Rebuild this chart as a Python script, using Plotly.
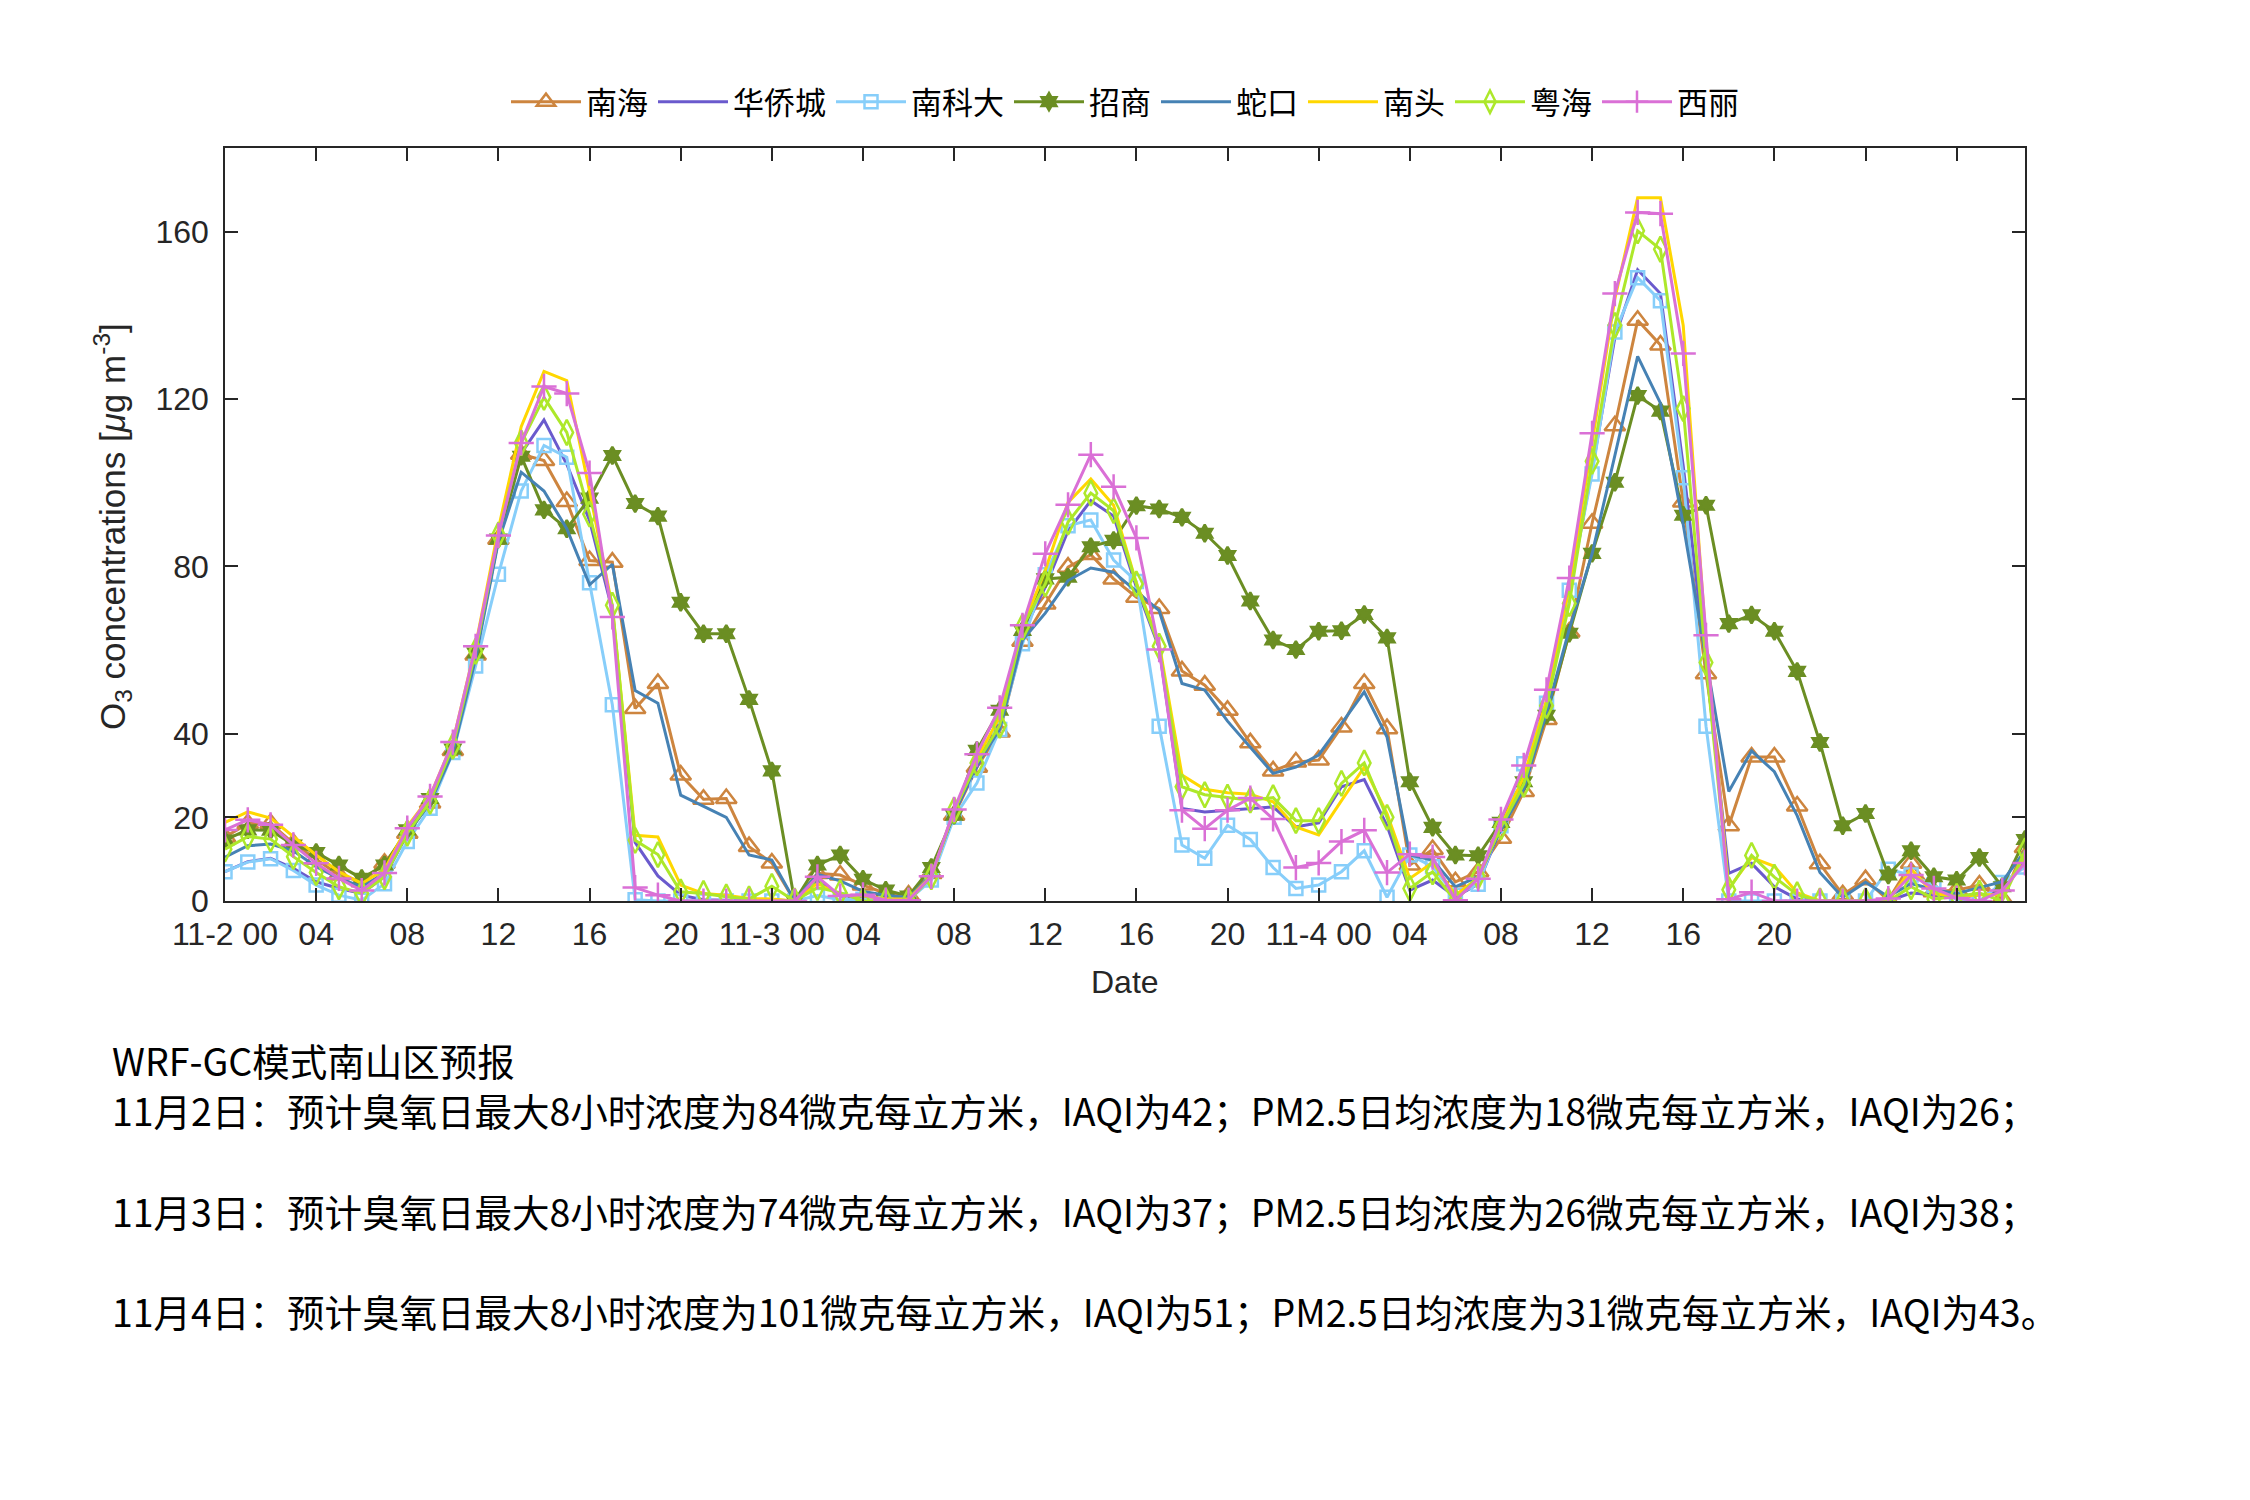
import plotly.graph_objects as go

hours = list(range(80))

nanhai = [15.3, 18.5, 18.5, 13.8, 10, 6.2, 4.6, 9.0, 16.2, 23.4,
          36, 58.8, 86.5, 106.8, 105.3, 95.5, 81.4, 81, 46, 52,
          30.1, 24.3, 24.5, 13, 9.1, 0, 6.6, 6.2, 3.8, 1.8,
          1.4, 6.6, 20.5, 32, 40.4, 62.1, 71, 79.8, 82.8, 77,
          72.6, 69.9, 55, 51.6, 45.6, 37.8, 31.1, 33.2, 33.7, 41.6,
          52, 41.2, 8.6, 12.3, 4.6, 7, 15, 26.2, 43.4, 64.3,
          90.3, 113.6, 138.8, 132.9, 95.4, 54.3, 18, 34.4, 34.4, 22.7,
          8.9, 1.5, 5.1, 0.2, 9, 2.2, 2.6, 3.8, 0.5, 12.8]

huaqiaocheng = [7, 9.4, 10.2, 7.8, 4.6, 3, 1.8, 5.8, 16, 23.8,
                37, 59.5, 87, 107, 115, 104.4, 91, 69.5, 14, 6,
                1.4, 0.3, 0.2, 0.2, 0.3, 0, 5, 1.2, 0.8, 0.3,
                0.3, 5.8, 21, 32, 43, 64, 75, 88.5, 95.7, 92,
                75, 60.5, 22.1, 21.3, 21.7, 22, 22.5, 17.7, 18.7, 27.3,
                29, 18, 2.6, 5, 1, 4, 17.5, 29, 46.7, 74,
                103, 134.7, 150.9, 145.2, 104, 57, 6.6, 9, 3.4, 0.5,
                0, 0, 0, 0, 1.9, 1.5, 0.7, 1.5, 2, 10]

nankeda = [7, 9.3, 10.1, 7.3, 3.8, 1.4, 0.2, 4.1, 14.2, 22.2,
           35.5, 56.2, 78.1, 98, 108.9, 106.1, 76.1, 46.9, 0.3, 0,
           0, 0, 0, 0, 0, 0, 1.3, 0.3, 0.4, 0.3,
           0.2, 5, 20, 28.2, 41, 61.5, 78, 89.7, 91.1, 81.5,
           76.4, 41.8, 13.4, 10.2, 18.1, 14.7, 8, 3, 3.8, 7,
           12, 0.9, 11, 8.2, 1.4, 4, 18, 32.8, 47.3, 74.3,
           102.1, 136, 149, 143.5, 101.2, 41.8, 0, 0, 0, 0,
           0, 0, 0, 7.6, 6.2, 3.8, 0.3, 0, 4.4, 8.1]

zhaoshang = [14.6, 17, 16.9, 13.4, 11.6, 8.6, 5.4, 8.6, 17, 24.5,
             36.3, 59.3, 86.5, 106.3, 93.5, 89, 96.3, 106.5, 95, 92,
             71.4, 63.9, 63.9, 48.2, 31.1, 0, 8.6, 11, 5.2, 2.6,
             1.2, 8, 20.5, 36, 45.6, 64.7, 77, 77.4, 84.7, 86.2,
             94.5, 93.7, 91.7, 87.9, 82.6, 71.7, 62.4, 60.1, 64.5, 64.6,
             68.5, 62.9, 28.5, 17.6, 11, 10.8, 18.8, 28.5, 44.4, 64,
             83.1, 100.1, 120.8, 117.1, 92.2, 94.6, 66.3, 68.4, 64.5, 54.9,
             37.9, 18, 20.9, 6.2, 12, 5.8, 5, 10.4, 3.4, 14.7]

shekou = [10.5, 13.2, 13.6, 12, 8.2, 5.4, 3.4, 6.7, 16, 23.4,
          35.5, 58, 86, 102.5, 98, 89, 75.6, 80.5, 50.3, 47.3,
          25.3, 22.7, 20, 11, 9.8, 0, 6.4, 4.8, 2.3, 1.4,
          0.8, 6.3, 21, 32.6, 41, 62.4, 68.8, 76.6, 79.6, 78.6,
          74, 69.4, 52, 50.4, 43, 36.8, 30.5, 32, 34.9, 42.4,
          50, 39.2, 11, 9.8, 3.4, 5.8, 17, 26.8, 45, 65,
          83, 106.5, 130.2, 119, 90, 58, 26.2, 35.9, 30.9, 20.4,
          6.8, 0.9, 4.5, 1, 4.2, 2.7, 1.8, 3.2, 4.6, 12]

nantou = [18.8, 21.3, 19.8, 15.3, 11, 7, 4.2, 7.5, 17.8, 25,
          38, 61, 89, 113.4, 126.6, 124.4, 98, 70.3, 15.7, 15.3,
          3.8, 1.8, 1.4, 0.6, 0.5, 0, 4.2, 1.5, 1.2, 0.5,
          0.5, 6, 21.5, 34, 44, 65.5, 79, 95.3, 100.9, 94.6,
          76, 61.5, 30.1, 26.7, 25.9, 25.5, 23.7, 17.7, 15.8, 24,
          32, 20.9, 5.4, 9.2, 1.4, 5.5, 18, 29.7, 48, 75,
          110, 144, 168.1, 168.1, 137.6, 62, 3, 10.4, 8.3, 2,
          0, 0, 0, 0, 7.6, 1.8, 1, 1.5, 1.5, 11]

yuehai = [12.4, 15.4, 14.8, 10.6, 6.8, 3.4, 1.8, 5.8, 16.2, 23.8,
          37, 59.7, 87.5, 109.5, 120.4, 112, 92.5, 70.7, 14.5, 11.1,
          2.2, 1.8, 1, 0.5, 3.5, 0, 3.2, 2, 0, 0,
          0, 5.8, 21.7, 33, 42, 65.5, 75.8, 90.6, 97.5, 93.3,
          75.8, 60.9, 27.3, 25.4, 24.8, 24.1, 24.7, 19.2, 19.2, 28.1,
          33, 20, 3, 7, 0, 5.9, 17.7, 27.9, 46.7, 71.1,
          105.1, 137.6, 160.2, 155.8, 117.7, 57, 2.7, 10.9, 5.7, 1.5,
          0, 0, 0, 0, 3.4, 0.5, 1.1, 1.9, 0, 12]

xili = [17, 19.4, 18.2, 13.4, 9, 5.4, 2.5, 6.7, 17.4, 25,
        38, 60.9, 87.4, 109.5, 123, 121.3, 102.3, 67.9, 3.2, 1.4,
        0, 0, 0, 0, 0, 0, 5.8, 1.2, 1.5, 0.2,
        0.2, 5.9, 21.9, 35.1, 46.2, 65.9, 83, 94.7, 106.7, 99,
        86.8, 60.1, 21.7, 17.3, 21.7, 24.6, 19.6, 8, 9.1, 14.2,
        16.9, 6.8, 11.2, 10.5, 0.2, 5.3, 19.5, 32.4, 50.5, 77.2,
        111.8, 145.2, 164.6, 164.3, 130.9, 63.5, 0.4, 2.1, 0, 0,
        0, 0, 0, 0.6, 6.2, 3, 0.7, 0, 2.5, 9.1]

x_tickvals = list(range(0, 80, 4))
x_ticktext = ["11-2 00", "04", "08", "12", "16", "20",
              "11-3 00", "04", "08", "12", "16", "20",
              "11-4 00", "04", "08", "12", "16", "20", "", ""]
y_tickvals = [0, 20, 40, 80, 120, 160]

notes = [
    "WRF-GC模式南山区预报",
    "11月2日：预计臭氧日最大8小时浓度为84微克每立方米，IAQI为42；PM2.5日均浓度为18微克每立方米，IAQI为26；",
    "11月3日：预计臭氧日最大8小时浓度为74微克每立方米，IAQI为37；PM2.5日均浓度为26微克每立方米，IAQI为38；",
    "11月4日：预计臭氧日最大8小时浓度为101微克每立方米，IAQI为51；PM2.5日均浓度为31微克每立方米，IAQI为43。",
]

series = [
    ("南海", nanhai, "#CD853F", "triangle-up-open", 18),
    ("华侨城", huaqiaocheng, "#6A5ACD", None, 0),
    ("南科大", nankeda, "#87CEFA", "square-open", 13),
    ("招商", zhaoshang, "#6B8E23", "hexagram", 13),
    ("蛇口", shekou, "#4682B4", None, 0),
    ("南头", nantou, "#FFD700", None, 0),
    ("粤海", yuehai, "#ADE82A", "diamond-tall-open", 18),
    ("西丽", xili, "#DA70D6", "cross-thin-open", 18),
]

CJK = "Noto Sans CJK SC"
LAT = "Liberation Sans, Arial, sans-serif"

OFF = 8  # default page body margin
W, H = 2250 - OFF, 1500 - OFF
L, R, T, B = 225 - OFF, 2025 - OFF, 148 - OFF, 901 - OFF

fig = go.Figure()
for name, vals, color, sym, size in series:
    if sym is None:
        fig.add_trace(go.Scatter(x=hours, y=vals, name=name, mode="lines",
                                 line=dict(color=color, width=3)))
    else:
        fig.add_trace(go.Scatter(x=hours, y=vals, name=name, mode="lines+markers",
                                 line=dict(color=color, width=3),
                                 marker=dict(symbol=sym, size=size, color=color,
                                             line=dict(color=color, width=2.5))))

def px(xs):
    return (xs - OFF - L) / (R - L)

def py(ys):
    return (B - (ys - OFF)) / (B - T)

annotations = []
for txt, ypix in zip(notes, [1059, 1109, 1210, 1310]):
    annotations.append(dict(text=txt, x=px(110), y=py(ypix), xref="paper", yref="paper",
                            xanchor="left", yanchor="middle", showarrow=False,
                            font=dict(family=CJK, size=37.5, color="black")))
annotations.append(dict(text="Date", x=0.5, y=py(982), xref="paper", yref="paper",
                        xanchor="center", yanchor="middle", showarrow=False,
                        font=dict(family=LAT, size=32, color="#262626")))
annotations.append(dict(text="O<sub>3</sub> concentrations [<i>μ</i>g m<sup>-3</sup>]",
                        x=px(112), y=py(527), xref="paper", yref="paper",
                        xanchor="center", yanchor="middle", showarrow=False, textangle=-90,
                        font=dict(family=LAT, size=35, color="#262626")))

fig.update_layout(
    width=W, height=H,
    margin=dict(l=L, r=W - R, t=T, b=H - B, pad=0),
    paper_bgcolor="white", plot_bgcolor="white",
    showlegend=True,
    legend=dict(orientation="h", x=0.5, xanchor="center", y=py(102), yanchor="middle",
                font=dict(family=CJK, size=31, color="black"),
                itemwidth=70, bgcolor="rgba(0,0,0,0)", tracegroupgap=0),
    annotations=annotations,
    xaxis=dict(range=[0, 79], tickmode="array", tickvals=x_tickvals, ticktext=x_ticktext,
               ticks="inside", ticklen=13, tickwidth=1.5, tickcolor="#262626",
               showline=True, linecolor="#262626", linewidth=1.5, mirror="ticks",
               showgrid=False, zeroline=False, ticklabelstandoff=4,
               tickfont=dict(family=LAT, size=32, color="#262626")),
    yaxis=dict(range=[0, 180], tickmode="array", tickvals=y_tickvals,
               ticks="inside", ticklen=13, tickwidth=1.5, tickcolor="#262626",
               showline=True, linecolor="#262626", linewidth=1.5, mirror="ticks",
               showgrid=False, zeroline=False, ticklabelstandoff=8,
               tickfont=dict(family=LAT, size=32, color="#262626")),
)

fig.write_html("out.html")
